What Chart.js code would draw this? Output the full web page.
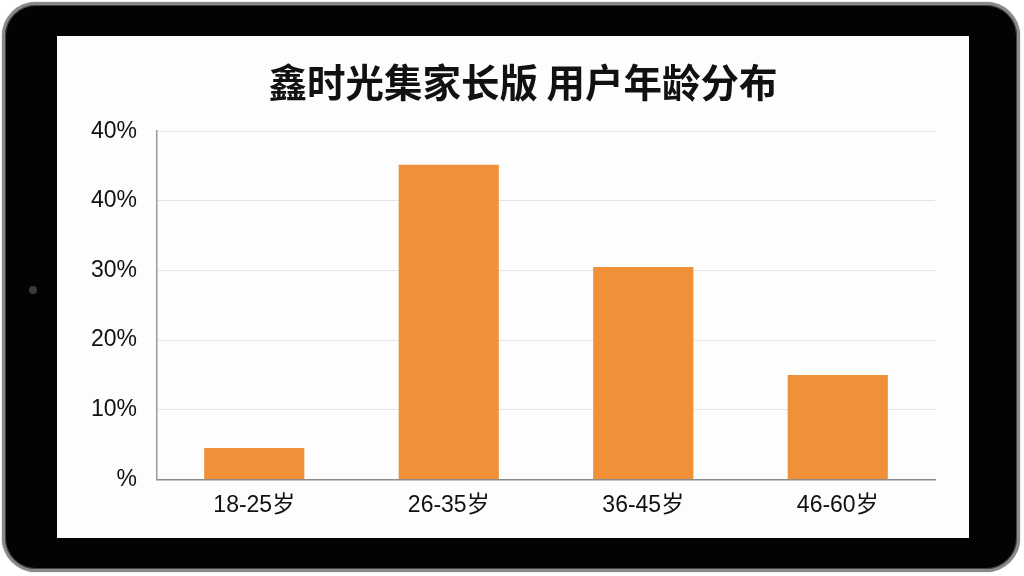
<!DOCTYPE html>
<html>
<head>
<meta charset="utf-8">
<script src="https://cdn.jsdelivr.net/npm/chart.js@4"></script>
<style>
  html, body { margin: 0; padding: 0; background: #fff; }
  body { width: 1024px; height: 576px; position: relative; overflow: hidden; }
  .device {
    position: absolute; left: 2px; top: 2px; width: 1018px; height: 570px;
    box-sizing: border-box; border-radius: 34px;
    background: #030303;
    border: 3px solid #8a8a8a;
    box-shadow: inset 0 0 0 1px #444, 0 0 1px #555;
  }
  .camera {
    position: absolute; left: 29px; top: 286px; width: 8px; height: 8px;
    border-radius: 50%; background: #3a3a3a;
  }
  .screen {
    position: absolute; left: 57px; top: 36px; width: 912px; height: 502px;
    background: #fdfdfd;
  }
  #chart { position: absolute; left: 0; top: 0; }
</style>
</head>
<body>
<div class="device"></div>
<div class="camera"></div>
<div class="screen"><canvas id="chart" width="932" height="502"></canvas></div>
<script>
// Chart data
const title = "鑫时光集家长版 用户年龄分布";
const ageGroups = ["18-25岁", "26-35岁", "36-45岁", "46-60岁"];
const userShare = [4.5, 45.2, 30.5, 15];
const yTickLabels = ["%", "10%", "20%", "30%", "40%", "40%"];

const fontFamily = "'Liberation Sans', Arial, 'Noto Sans CJK SC', sans-serif";

new Chart(document.getElementById("chart"), {
  type: "bar",
  data: {
    labels: ageGroups,
    datasets: [{
      data: userShare,
      backgroundColor: "#f0913a",
      borderWidth: 0,
      barPercentage: 0.515,
      categoryPercentage: 1
    }]
  },
  options: {
    responsive: false,
    animation: false,
    layout: { padding: { left: 0, right: 0, top: 0, bottom: 15 } },
    plugins: {
      legend: { display: false },
      tooltip: { enabled: false },
      title: {
        display: true,
        text: title,
        color: "#111",
        font: { family: "'Noto Sans CJK SC', sans-serif", size: 38.5, weight: "bold", lineHeight: 1.2 },
        padding: { top: 23, bottom: 26 }
      }
    },
    scales: {
      x: {
        grid: { display: false },
        border: { color: "#8c8c8c", width: 1.5 },
        ticks: { color: "#111", padding: 4, font: { family: fontFamily, size: 23 } }
      },
      y: {
        min: 0,
        max: 50,
        afterFit: s => { s.width = 100; },
        grid: { color: "#e4e4e4", lineWidth: 1, drawTicks: false },
        border: { color: "#9a9a9a", width: 1.5 },
        ticks: {
          stepSize: 10,
          color: "#111",
          padding: 20,
          font: { family: fontFamily, size: 23 },
          callback: (v, i) => yTickLabels[i]
        }
      },
      // empty right-hand spacer so the title sits where it does in the picture
      spacer: {
        position: "right",
        min: 0,
        max: 50,
        afterFit: s => { s.width = 54; },
        grid: { display: false },
        border: { display: false },
        ticks: { display: false }
      }
    }
  }
});
</script>
</body>
</html>
